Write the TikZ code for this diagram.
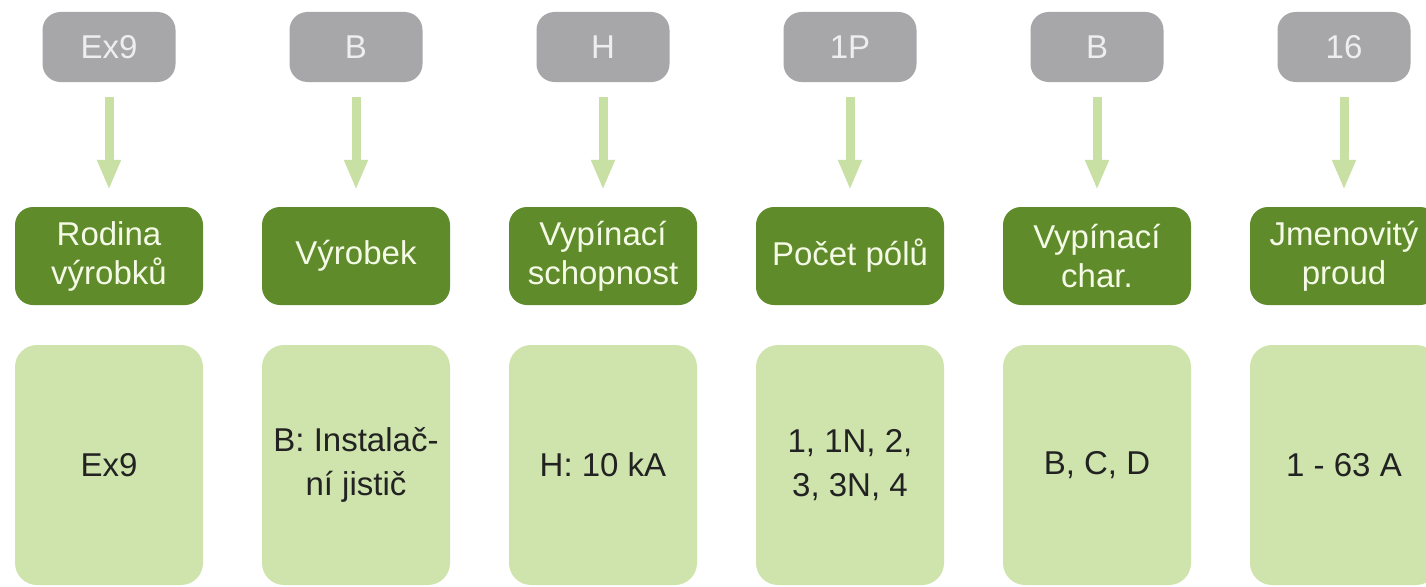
\documentclass[tikz,border=0pt]{standalone}
\usepackage{fontspec}
\setmainfont{Liberation Sans}
\usetikzlibrary{arrows.meta}
\definecolor{greybox}{HTML}{A7A7AA}
\definecolor{greytext}{HTML}{EEEEEE}
\definecolor{darkgreen}{HTML}{5F8B2B}
\definecolor{greentext}{HTML}{F4FAE6}
\definecolor{lightgreen}{HTML}{CEE4AC}
\definecolor{arrowgreen}{HTML}{C8E0A4}
\definecolor{darktext}{HTML}{222222}
\tikzset{
  codebox/.style={fill=greybox, text=greytext, rounded corners=18pt, minimum width=133pt, minimum height=70pt, inner sep=0pt, font=\fontsize{33}{40}\selectfont},
  headbox/.style={fill=darkgreen, text=greentext, rounded corners=18pt, minimum width=188pt, minimum height=98pt, inner sep=0pt, align=center, font=\fontsize{33}{39}\selectfont},
  valbox/.style={fill=lightgreen, text=darktext, rounded corners=22pt, minimum width=188pt, minimum height=240pt, inner sep=0pt, align=center, font=\fontsize{33}{44}\selectfont},
  flowarrow/.style={draw=arrowgreen, line width=9pt, -{Triangle[width=22pt,length=30pt]}, shorten <=15pt, shorten >=17pt}
}
\begin{document}
\begin{tikzpicture}[x=1pt,y=-1pt]
\useasboundingbox (0,0) rectangle (1426,586);
\fill[white] (0,0) rectangle (1426,586);
\begin{scope}
\clip (0,0) rectangle (1426,586);
\node[codebox] (c1) at (109,47) {Ex9};
\node[codebox] (c2) at (356,47) {B};
\node[codebox] (c3) at (603,47) {H};
\node[codebox] (c4) at (850,47) {1P};
\node[codebox] (c5) at (1097,47) {B};
\node[codebox] (c6) at (1344,47) {16};

\node[headbox] (h1) at (109,256) {Rodina\\výrobků};
\node[headbox] (h2) at (356,256) {Výrobek};
\node[headbox] (h3) at (603,256) {Vypínací\\schopnost};
\node[headbox] (h4) at (850,256) {Počet pólů};
\node[headbox] (h5) at (1097,256) {Vypínací\\char.};
\node[headbox] (h6) at (1344,256) {Jmenovitý\\proud};

\node[valbox] (v1) at (109,465) {Ex9};
\node[valbox] (v2) at (356,465) {B: Instalač-\\ní jistič};
\node[valbox] (v3) at (603,465) {H: 10 kA};
\node[valbox] (v4) at (850,465) {1, 1N, 2,\\3, 3N, 4};
\node[valbox] (v5) at (1097,465) {B, C, D};
\node[valbox] (v6) at (1344,465) {1 - 63 A};

\foreach \i in {1,...,6} {
  \draw[flowarrow] (c\i.south) -- (h\i.north);
}
\end{scope}
\end{tikzpicture}
\end{document}
